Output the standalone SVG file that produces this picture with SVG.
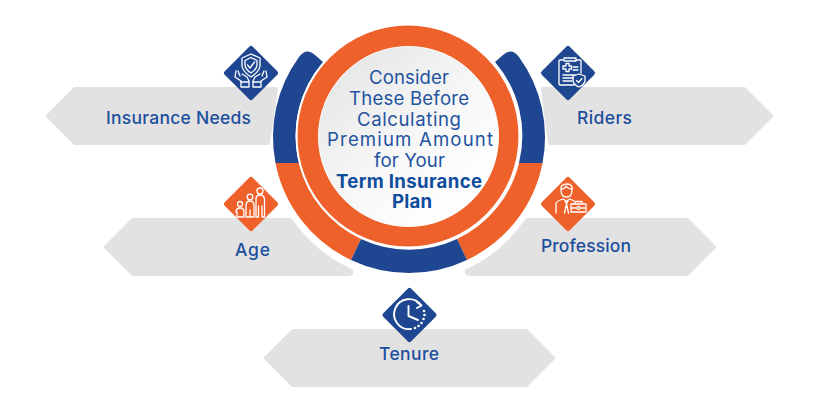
<svg xmlns="http://www.w3.org/2000/svg" width="840" height="400" viewBox="0 0 840 400">
<style>
.lab{font-family:"Inter","Liberation Sans",sans-serif;font-size:17.5px;font-weight:500;fill:#1c4f9c;text-anchor:middle}
.ct{font-family:"Inter","Liberation Sans",sans-serif;font-size:18.600px;fill:#2353a0;text-anchor:middle}
.cb{font-weight:700;fill:#104c9c}
.bar{fill:#e3e2e3;stroke:#e3e2e3;stroke-width:4;stroke-linejoin:round}
.dia{stroke-width:5;stroke-linejoin:round}
.b{fill:#1f4690;stroke:#1f4690}
.o{fill:#ee612b;stroke:#ee612b}
.ic{fill:none;stroke:#fff;stroke-width:1.3;stroke-linecap:round;stroke-linejoin:round}
.ck{stroke-width:1.900}
</style>
<defs>
<linearGradient id="disc" x1="0.15" y1="0.1" x2="0.85" y2="0.9"><stop offset="0" stop-color="#e7e7e8"/><stop offset="0.55" stop-color="#f8f8f8"/><stop offset="1" stop-color="#ffffff"/></linearGradient>
</defs>
<rect width="840" height="400" fill="#fff"/>

<g id="ring">
<path fill="#1f4690" d="M275.500 163A136 136 0 0 1 299 57Q306 47 315 55L323 62A113 113 0 0 0 299 163Z"/>
<path fill="#1f4690" d="M542.500 163A136 136 0 0 0 519 57Q512 47 503 55L495 62A113 113 0 0 1 519 163Z"/>
<path fill="#ee612b" d="M275.500 163A136 136 0 0 0 351 260L361 239A113 113 0 0 1 299 163Z"/>
<path fill="#ee612b" d="M542.500 163A136 136 0 0 1 467 260L457 239A113 113 0 0 0 519 163Z"/>
<path fill="#1f4690" d="M351 260A136 136 0 0 0 467 260L457 239A113 113 0 0 1 361 239Z"/>
<circle cx="408" cy="136" r="111.500" fill="#ee612b" stroke="#fff" stroke-width="2"/>
<circle cx="408.500" cy="136.500" r="90" fill="url(#disc)" stroke="#fff" stroke-width="1"/>
<text class="ct" x="409" y="84" textLength="80">Consider</text>
<text class="ct" x="409" y="104.800" textLength="120">These Before</text>
<text class="ct" x="409" y="125.600" textLength="104">Calculating</text>
<text class="ct" x="410" y="146.400" textLength="166">Premium Amount</text>
<text class="ct" x="409.500" y="167" textLength="71">for Your</text>
<text class="ct cb" x="409" y="187.500" textLength="146">Term Insurance</text>
<text class="ct cb" x="412" y="208.300" textLength="40">Plan</text>
</g>

<g id="connectors"></g>

<g id="insurance-needs">
<path class="bar" d="M48 116L75 89H276Q272 116 268 143H75Z"/>
<path class="dia b" d="M251 48.500L275.500 73L251 97.500L226.500 73Z"/>
<path class="ic" d="M251 54L260 58V66Q259 72 251 77Q243 72 242 66V58Z"/>
<path class="ic" d="M251 57.500L257 60.500V65.500Q256 70 251 73Q246 70 245 65.500V60.500Z"/>
<path class="ic" d="M247.500 65L250 68L254.500 62"/>
<path class="ic" d="M236 71L235 77L241 81V87H249V81L247 77L242 74M238 71L240 76"/>
<path class="ic" d="M266 71L267 77L261 81V87H253V81L255 77L260 74M264 71L262 76"/>
<path class="ic" d="M241 82H249M253 82H261"/>
</g>

<g id="riders">
<path class="bar" d="M543 89H744L771 116L744 143H550Q546 116 543 89Z"/>
<path class="dia b" d="M568 48.500L592.500 73L568 97.500L543.500 73Z"/>
<path class="ic" d="M563 60H560Q559 60 559 61V84Q559 85 560 85H574M581 73V61Q581 60 580 60H576"/>
<path class="ic" d="M564 58H576V61H564Z"/>
<path class="ic" d="M563 66H566V63.500H569V66H571.500V69H569V71.500H566V69H563Z"/>
<path class="ic" d="M573 67H578M573 70H578M563 75H575M563 78H573M563 81H572"/>
<path class="ic" d="M579 74L585 76V81Q584 85 579 87Q574 85 573 81V76Z"/>
<path class="ic" d="M576.500 80.500L578.500 82.500L582 78.500"/>
</g>

<g id="age">
<path class="bar" d="M106 247L133 220H290Q315 255 351 271Q352 274 348 274H133Z"/>
<path class="dia o" d="M251 179.500L275.500 204L251 228.500L226.500 204Z"/>
<circle class="ic" cx="260" cy="191" r="3"/>
<path class="ic" d="M256 217V199Q256 195 260 195Q264 195 264.500 199V217H262V206M258.500 206V217H256"/>
<circle class="ic" cx="250" cy="197" r="2.800"/>
<path class="ic" d="M246 217V206Q246 201 250 201Q254 201 254 206V217H246M250 210V217"/>
<circle class="ic" cx="240" cy="204" r="2.500"/>
<path class="ic" d="M236 212Q236 208 240 208Q244 208 244 212V217H237V212"/>
</g>

<g id="profession">
<path class="bar" d="M527 220H687L714 247L687 274H470Q466 274 467 271Q503 255 527 220Z"/>
<path class="dia o" d="M568 179.500L592.500 204L568 228.500L543.500 204Z"/>
<path class="ic" d="M561 190Q560 184 567 184Q573 184 572 190Q572 197 566.500 197Q561 197 561 190Z"/>
<path class="ic" d="M561 189Q565 189 566 186Q568 189 572 189"/>
<path class="ic" d="M556 213V204Q556 201 563 199L566.500 201L570 199L574 201M565 201L566.500 204L568 201M566.500 204L564.500 213M566.500 204L568.500 213"/>
<path class="ic" d="M571 204H586V212H571ZM575 204V201.500H582V204M571 208H576M581 208H586"/>
<circle class="ic" cx="578.500" cy="208" r="1.500"/>
</g>

<g id="tenure">
<path class="bar" d="M266 358L293 331H526L553 358L526 385H293Z"/>
<path class="dia b" d="M409.500 290.500L434 315L409.500 339.500L385 315Z"/>
<path class="ic ck" d="M421 305A15 15 0 1 0 411 329"/>
<path class="ic ck" d="M417 302L421.500 305.500L417 308"/>
<path class="ic ck" d="M408.500 306V316L418 320"/>
<g fill="#fff"><circle cx="424" cy="311" r="1.300"/><circle cx="424.500" cy="315" r="1.300"/><circle cx="423.500" cy="319" r="1.300"/><circle cx="421.500" cy="323" r="1.300"/><circle cx="418.500" cy="326" r="1.300"/><circle cx="415" cy="328" r="1.300"/></g>
</g>

<g id="labels">
<text class="lab" x="178.500" y="124" textLength="145">Insurance Needs</text>
<text class="lab" x="604.500" y="124" textLength="55">Riders</text>
<text class="lab" x="252.500" y="256" textLength="35">Age</text>
<text class="lab" x="586" y="252" textLength="90">Profession</text>
<text class="lab" x="409" y="360" textLength="60">Tenure</text>
</g>
</svg>
